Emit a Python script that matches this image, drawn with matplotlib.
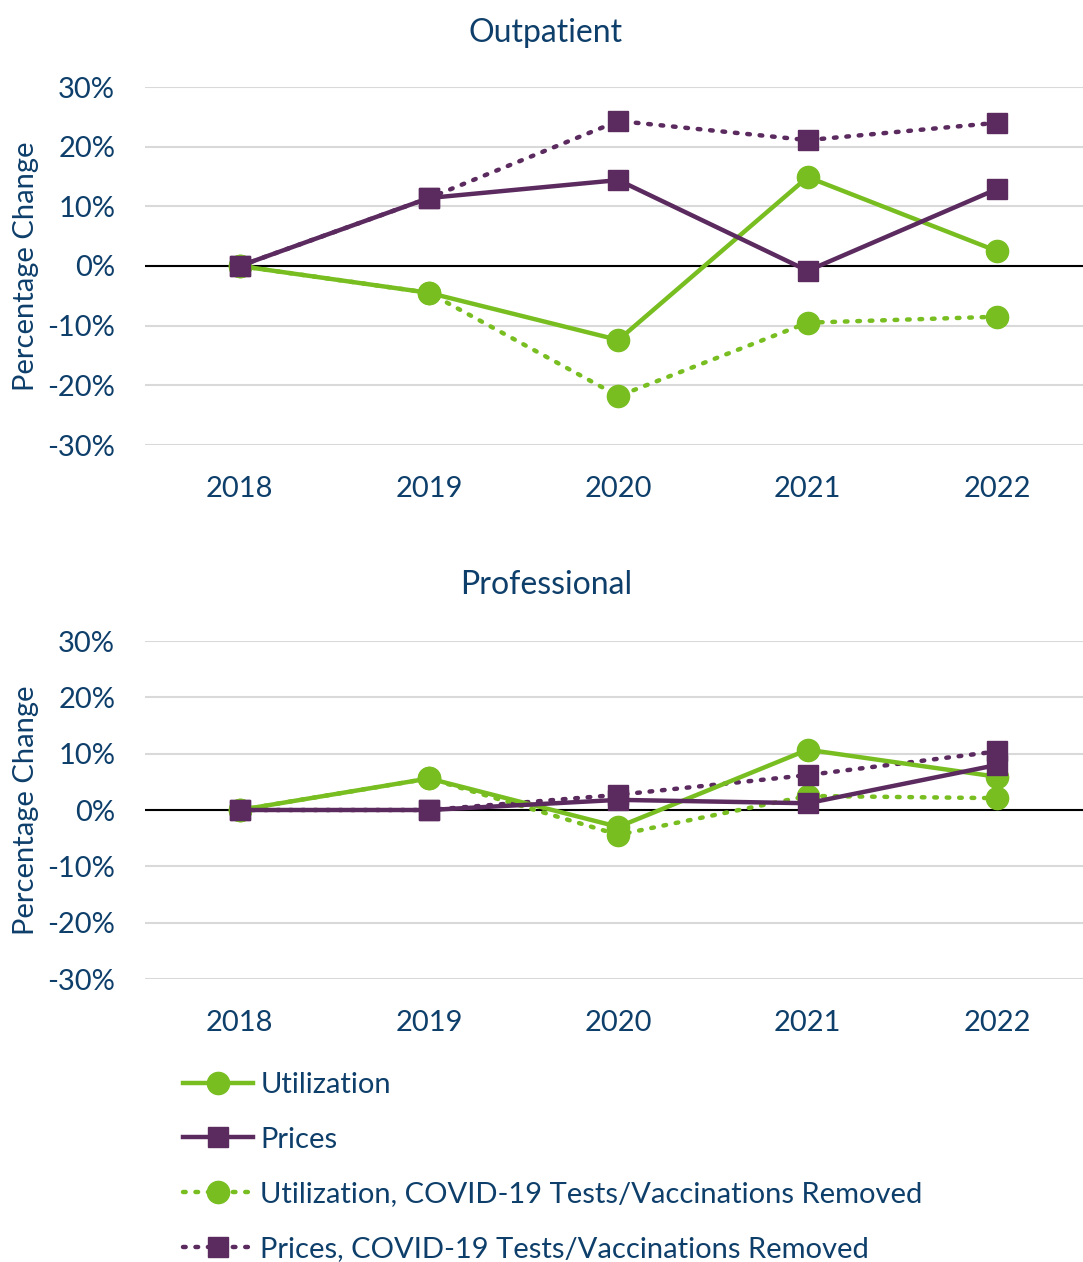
import matplotlib
matplotlib.use("Agg")
import matplotlib.pyplot as plt
from matplotlib.ticker import FuncFormatter

plt.rcParams["font.family"] = ["Lato", "DejaVu Sans"]

years = ["2018", "2019", "2020", "2021", "2022"]

# Outpatient (% change from 2018)
out_util = [0, -4.5, -12.4, 14.9, 2.5]
out_prices = [0, 11.4, 14.4, -0.8, 12.9]
out_util_nocovid = [0, -4.5, -21.8, -9.5, -8.5]
out_prices_nocovid = [0, 11.4, 24.3, 21.1, 24.0]

# Professional (% change from 2018)
pro_util = [0, 5.6, -3.0, 10.7, 5.9]
pro_prices = [0, 0.0, 1.8, 1.2, 8.0]
pro_util_nocovid = [0, 5.6, -4.4, 2.5, 2.1]
pro_prices_nocovid = [0, 0.0, 2.7, 6.2, 10.4]

labels = ["Utilization", "Prices",
          "Utilization, COVID-19 Tests/Vaccinations Removed",
          "Prices, COVID-19 Tests/Vaccinations Removed"]

green = "#78BE21"
purple = "#5B2A5F"
text_col = "#0E3F6B"

W, H = 1083, 1262
fig = plt.figure(figsize=(W / 100, H / 100), dpi=100)


def add_ax(top, bottom, left=145, right=1083):
    return fig.add_axes([left / W, 1 - bottom / H, (right - left) / W, (bottom - top) / H])


def draw(ax, util, prices, util_nc, prices_nc):
    x = range(len(years))
    ax.plot(x, util_nc, color=green, lw=3.2, ls=(0, (0.6, 2.2)), dash_capstyle="round",
            marker="o", ms=16, label=labels[2], zorder=3)
    ax.plot(x, prices_nc, color=purple, lw=3.2, ls=(0, (0.6, 2.2)), dash_capstyle="round",
            marker="s", ms=14, label=labels[3], zorder=3)
    ax.plot(x, util, color=green, lw=3.2, marker="o", ms=16, label=labels[0], zorder=4)
    ax.plot(x, prices, color=purple, lw=3.2, marker="s", ms=14, label=labels[1], zorder=4)
    ax.set_xlim(-0.5, 4.454)
    ax.set_ylim(-30, 30)
    ax.set_yticks(range(-30, 31, 10))
    ax.yaxis.set_major_formatter(FuncFormatter(lambda v, p: f"{v:.0f}%"))
    ax.set_xticks(list(x))
    ax.set_xticklabels(years)
    ax.grid(axis="y", color="#D9D9D9", lw=1.5)
    ax.axhline(0, color="black", lw=1.5, zorder=2)
    for s in ax.spines.values():
        s.set_visible(False)
    ax.tick_params(length=0, labelsize=21, colors=text_col)
    ax.tick_params(axis="x", pad=22)
    ax.tick_params(axis="y", pad=21.5)


ax1 = add_ax(87, 445)
draw(ax1, out_util, out_prices, out_util_nocovid, out_prices_nocovid)
fig.text(546 / W, 1 - 33 / H, "Outpatient", ha="center", va="center", fontsize=23, color=text_col)
fig.text(26 / W, 1 - 266 / H, "Percentage Change", rotation=90, ha="center", va="center",
         fontsize=21, color=text_col)

ax2 = add_ax(641, 979)
draw(ax2, pro_util, pro_prices, pro_util_nocovid, pro_prices_nocovid)
fig.text(546 / W, 1 - 585 / H, "Professional", ha="center", va="center", fontsize=23, color=text_col)
fig.text(26 / W, 1 - 810 / H, "Percentage Change", rotation=90, ha="center", va="center",
         fontsize=21, color=text_col)

handles, labs = ax2.get_legend_handles_labels()
order = [2, 3, 0, 1]
leg = fig.legend([handles[i] for i in order], [labs[i] for i in order],
                 loc="upper left", bbox_to_anchor=(183 / W, 1 - 1072 / H),
                 frameon=False, fontsize=21, handlelength=2.4, handletextpad=0.25,
                 labelspacing=0.98, borderaxespad=0, borderpad=0)
for t in leg.get_texts():
    t.set_color(text_col)

fig.savefig("out.png", dpi=100)
